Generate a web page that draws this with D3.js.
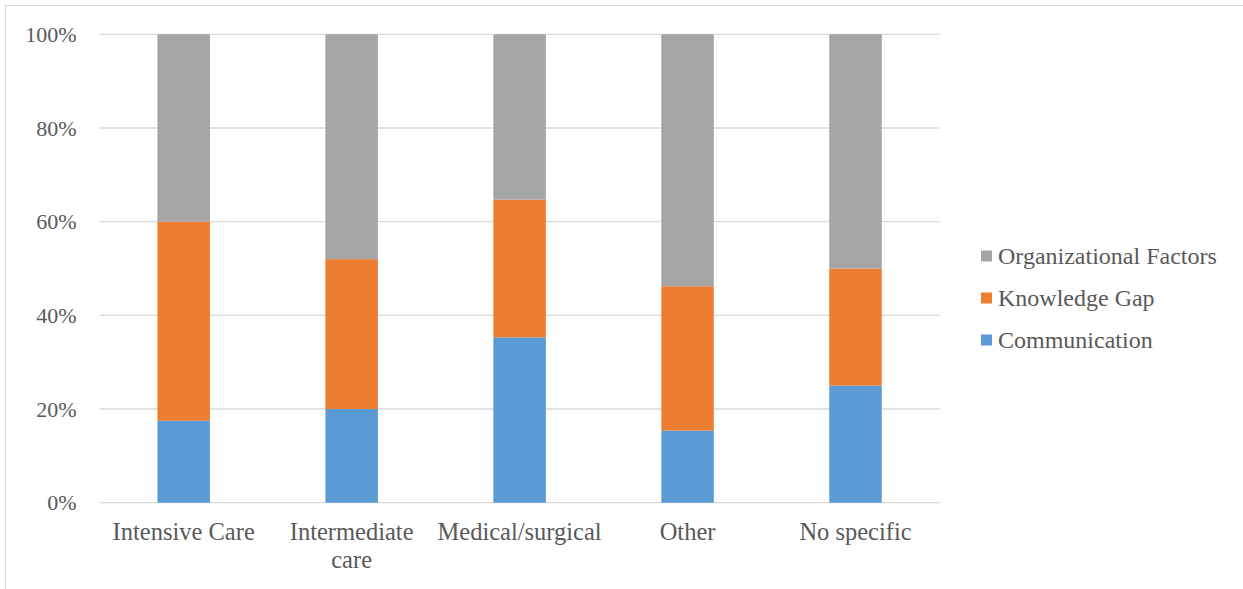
<!DOCTYPE html>
<html>
<head>
<meta charset="utf-8">
<script src="https://cdn.jsdelivr.net/npm/d3@7"></script>
<style>
  html, body { margin: 0; padding: 0; background: #fff; }
  svg { display: block; }
  text { font-family: "Liberation Serif", "Times New Roman", serif; fill: #595959; }
</style>
</head>
<body>
<svg id="chart" width="1243" height="589"></svg>
<script>
// Unit categories (x axis); "\n" marks a forced line break
const categories = ["Intensive Care", "Intermediate\ncare", "Medical/surgical", "Other", "No specific"];

// Share of each barrier type per unit, in percent
const communication  = [17.5, 20, 35.3, 15.4, 25];
const knowledgeGap   = [42.5, 32, 29.4, 30.8, 25];
const organizational = [40,   48, 35.3, 53.8, 50];

const seriesNames  = ["Communication", "Knowledge Gap", "Organizational Factors"];
const seriesColors = ["#5b9bd5", "#ed7d31", "#a5a5a5"];
const yTicks = [0, 20, 40, 60, 80, 100];

const svg = d3.select("#chart");
const W = 1243, H = 589;

// chart frame
svg.append("rect")
  .attr("x", 5.5).attr("y", 5.5)
  .attr("width", W + 10).attr("height", H + 10)
  .attr("fill", "none").attr("stroke", "#d9d9d9").attr("stroke-width", 1);

const plot = { left: 99.7, right: 939.5, top: 34.3, bottom: 502.7 };

const x = d3.scaleBand()
  .domain(categories)
  .range([plot.left, plot.right])
  .paddingInner(0.6875)
  .paddingOuter(0.34375);

const y = d3.scaleLinear().domain([0, 100]).range([plot.bottom, plot.top]);

// gridlines
svg.append("g")
  .selectAll("line")
  .data(yTicks)
  .join("line")
  .attr("x1", plot.left).attr("x2", plot.right)
  .attr("y1", d => y(d)).attr("y2", d => y(d))
  .attr("stroke", "#d9d9d9").attr("stroke-width", 1.3);

// y axis labels
const yAxis = d3.axisLeft(y).tickValues(yTicks).tickFormat(d => d + "%").tickSize(0).tickPadding(23);
const gy = svg.append("g").attr("transform", `translate(${plot.left},0)`).call(yAxis);
gy.select(".domain").remove();
gy.attr("font-family", null);
gy.selectAll("text").style("font-size", "22px").attr("fill", "#595959")
  .style("font-family", "'Liberation Serif', 'Times New Roman', serif");

// stacked bars
const rows = categories.map((c, i) => ({
  category: c,
  Communication: communication[i],
  "Knowledge Gap": knowledgeGap[i],
  "Organizational Factors": organizational[i]
}));
const stack = d3.stack().keys(seriesNames)(rows);
const color = d3.scaleOrdinal().domain(seriesNames).range(seriesColors);

svg.append("g")
  .selectAll("g")
  .data(stack)
  .join("g")
  .attr("fill", d => color(d.key))
  .selectAll("rect")
  .data(d => d)
  .join("rect")
  .attr("x", d => x(d.data.category))
  .attr("width", x.bandwidth())
  .attr("y", d => y(d[1]))
  .attr("height", d => y(d[0]) - y(d[1]));

// x axis labels
const gx = svg.append("g");
categories.forEach(c => {
  const lines = c.split("\n");
  const t = gx.append("text")
    .attr("x", x(c) + x.bandwidth() / 2)
    .attr("y", 539.5)
    .attr("text-anchor", "middle")
    .style("font-size", "24.5px");
  lines.forEach((ln, j) => {
    t.append("tspan")
      .attr("x", x(c) + x.bandwidth() / 2)
      .attr("dy", j === 0 ? 0 : 28)
      .text(ln);
  });
});

// legend (top entry is the topmost stack segment)
const legendOrder = seriesNames.slice().reverse();
const lg = svg.append("g");
legendOrder.forEach((name, i) => {
  const cy = 256 + i * 42;
  lg.append("rect")
    .attr("x", 981).attr("y", cy - 5.5)
    .attr("width", 11).attr("height", 11)
    .attr("fill", color(name));
  lg.append("text")
    .attr("x", 998).attr("y", cy)
    .attr("dominant-baseline", "central")
    .style("font-size", "24px")
    .text(name);
});
</script>
</body>
</html>
